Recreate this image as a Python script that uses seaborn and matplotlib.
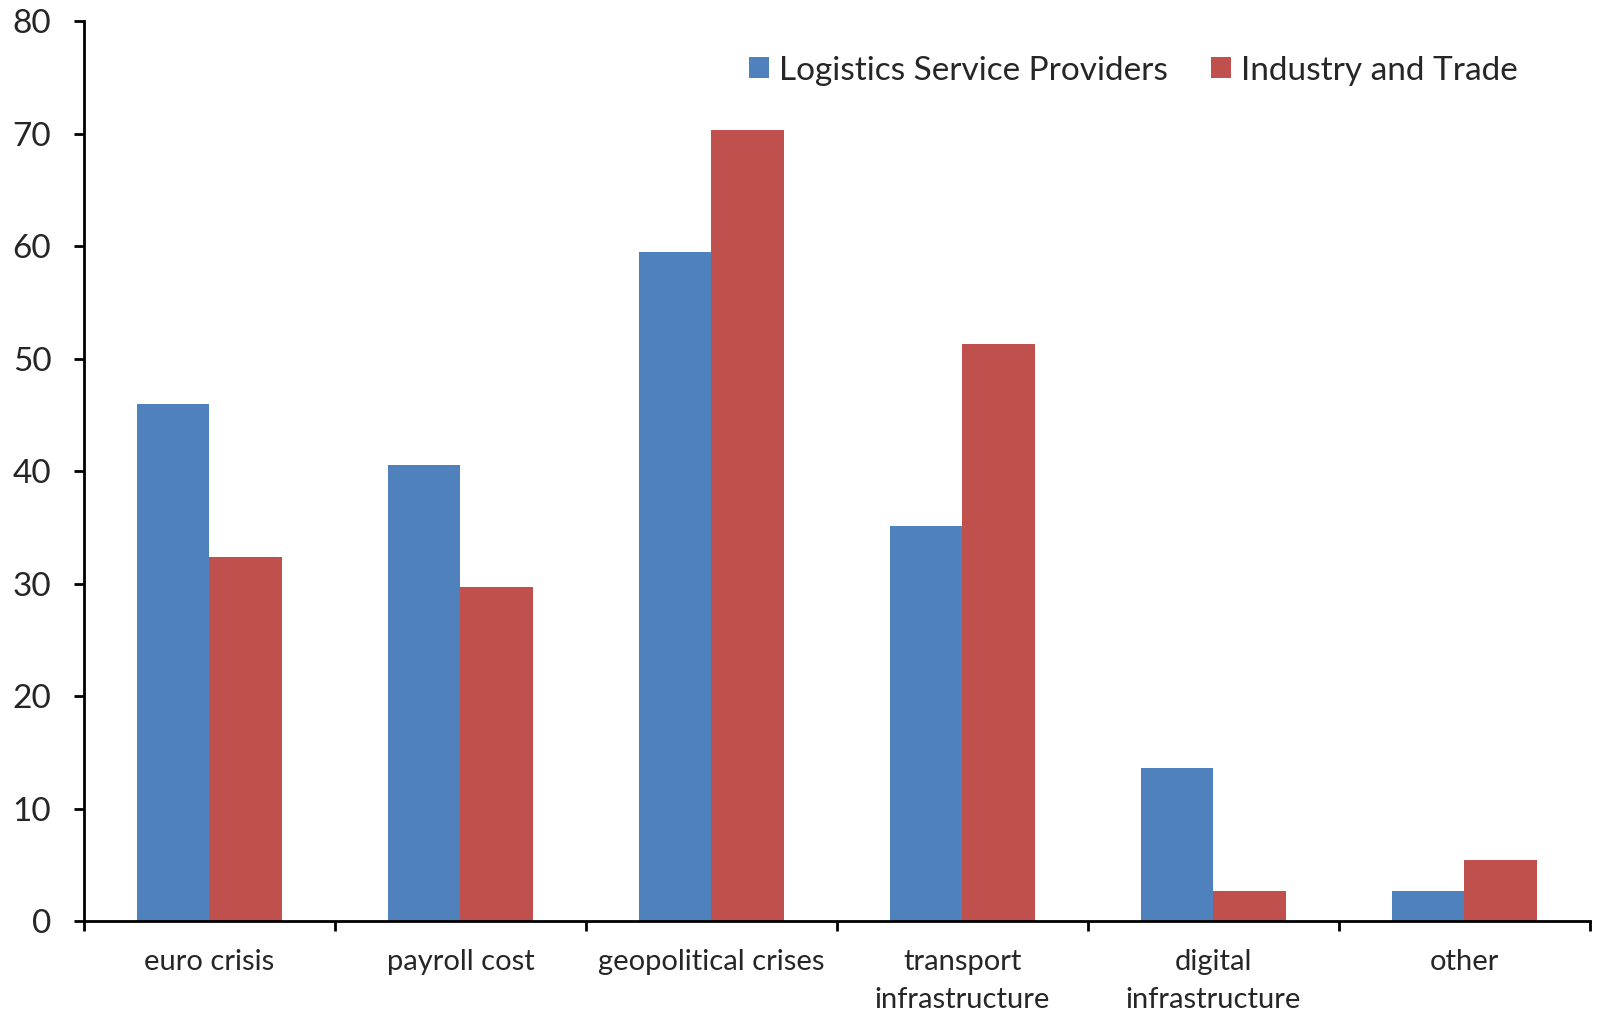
import matplotlib
matplotlib.use("Agg")
import matplotlib.pyplot as plt
import seaborn as sns
import pandas as pd
import numpy as np

categories = ["euro crisis", "payroll cost", "geopolitical crises",
              "transport\ninfrastructure", "digital\ninfrastructure", "other"]
series_names = ["Logistics Service Providers", "Industry and Trade"]
logistics_values = [46.0, 40.5, 59.5, 35.1, 13.6, 2.7]
industry_values = [32.4, 29.7, 70.3, 51.3, 2.7, 5.4]
y_ticks = [0, 10, 20, 30, 40, 50, 60, 70, 80]
palette = ["#4F81BD", "#C0504D"]

df = pd.DataFrame({
    "category": categories * 2,
    "group": [series_names[0]] * len(categories) + [series_names[1]] * len(categories),
    "value": logistics_values + industry_values,
})

sns.set_style("white")
plt.rcParams["font.family"] = ["Lato", "DejaVu Sans"]

fig = plt.figure(figsize=(15.97, 10.15), dpi=100)
ax = fig.add_axes([0.0526, 0.0926, 0.943, 0.8867])

sns.barplot(data=df, x="category", y="value", hue="group", order=categories,
            hue_order=series_names, palette=palette, width=0.574,
            saturation=1, linewidth=0, ax=ax, errorbar=None)

ax.set_xlim(-0.5, len(categories) - 0.5)
ax.set_ylim(0, 80)
ax.set_yticks(y_ticks)
ax.set_xlabel("")
ax.set_ylabel("")

for side in ["top", "right"]:
    ax.spines[side].set_visible(False)
for side in ["left", "bottom"]:
    ax.spines[side].set_color("black")
    ax.spines[side].set_linewidth(2)

ax.tick_params(axis="y", which="major", direction="out", length=7.5, width=2,
               color="black", labelsize=24, pad=16, left=True)
ax.tick_params(axis="x", which="major", length=0, labelsize=21, pad=20)
ax.set_xticks(np.arange(-0.5, len(categories), 1.0), minor=True)
ax.tick_params(axis="x", which="minor", direction="out", length=7.5, width=2,
               color="black", bottom=True)
for lbl in ax.get_xticklabels():
    lbl.set_linespacing(1.6)

leg = ax.legend(loc="upper right", bbox_to_anchor=(0.972, 0.995), ncol=2,
                frameon=False, fontsize=24, handlelength=0.6, handleheight=0.6,
                handletextpad=0.3, columnspacing=1.3)

fig.savefig("out.png", dpi=100, facecolor="white")
